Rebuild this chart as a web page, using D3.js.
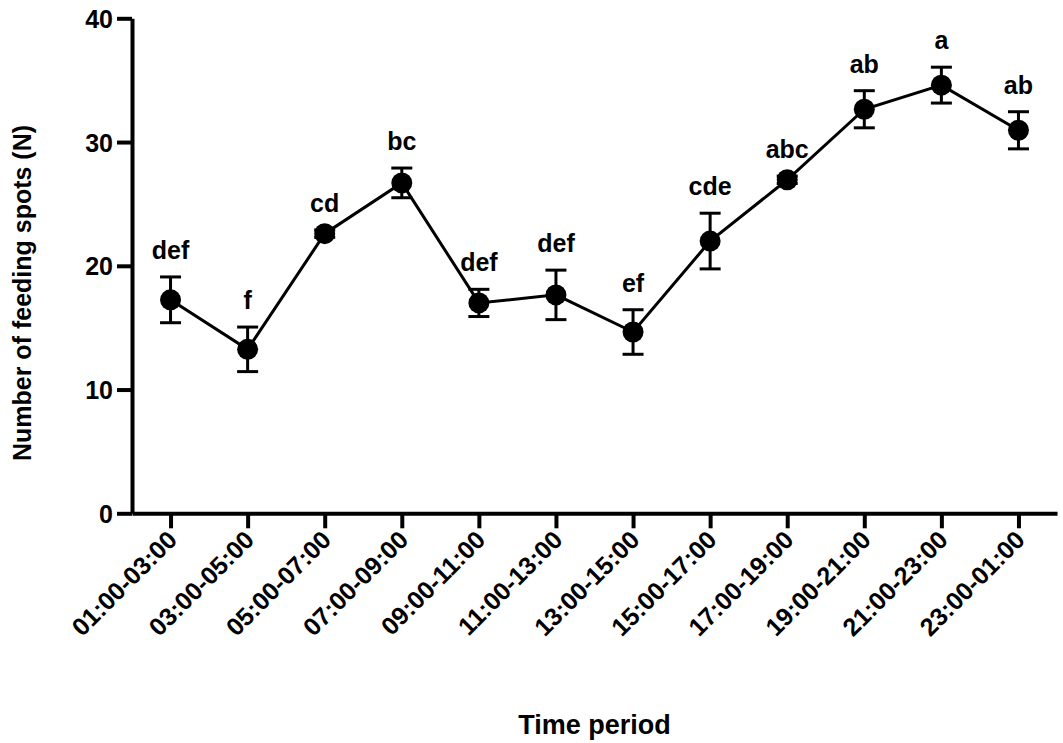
<!DOCTYPE html>
<html lang="en">
<head>
  <meta charset="UTF-8">
  <title>Feeding spots by time period</title>
  <style>
    body { margin: 0; background: #fff; }
    svg text { font-family: Arial, "Liberation Sans", sans-serif; font-weight: bold; fill: #000; }
  </style>
  <script src="https://cdn.jsdelivr.net/npm/d3@7"></script>
</head>
<body>
<svg id="chart" width="1063" height="743"></svg>
<script>
var periods = ["01:00-03:00", "03:00-05:00", "05:00-07:00", "07:00-09:00", "09:00-11:00", "11:00-13:00",
               "13:00-15:00", "15:00-17:00", "17:00-19:00", "19:00-21:00", "21:00-23:00", "23:00-01:00"];
var means   = [17.25, 13.25, 22.6, 26.7, 17.0, 17.65, 14.65, 22.0, 26.95, 32.65, 34.6, 30.95];
var errors  = [1.85, 1.8, 0.3, 1.2, 1.1, 2.0, 1.8, 2.25, 0.3, 1.5, 1.45, 1.5];
var letters = ["def", "f", "cd", "bc", "def", "def", "ef", "cde", "abc", "ab", "a", "ab"];
var yTicks  = [0, 10, 20, 30, 40];

var rows = periods.map(function(p, i) {
    return {period: p, mean: means[i], err: errors[i], letter: letters[i]};
});

var svg = d3.select("#chart");

var x = d3.scalePoint().domain(periods).range([132, 1057]).padding(0.5);
var y = d3.scaleLinear().domain([0, 40]).range([513.3, 18.3]);

// axes
var xAxis = svg.append("g")
    .attr("transform", "translate(0," + y(0) + ")")
    .call(d3.axisBottom(x).tickSize(15).tickSizeOuter(0).tickFormat(""));

var yAxis = svg.append("g")
    .attr("transform", "translate(132,0)")
    .call(d3.axisLeft(y).tickValues(yTicks).tickSize(15).tickSizeOuter(0).tickPadding(4));

[xAxis, yAxis].forEach(function(g) {
    g.select(".domain").attr("stroke", "#000").attr("stroke-width", 4);
    g.selectAll(".tick line").attr("stroke", "#000").attr("stroke-width", 4);
});
yAxis.selectAll(".tick text").style("font-size", "25px").attr("dy", "0.36em");

// rotated category labels
svg.append("g").selectAll("text")
    .data(periods)
    .enter().append("text")
    .attr("transform", function(d) { return "translate(" + (x(d) + 8) + "," + (y(0) + 28) + ") rotate(-45)"; })
    .attr("text-anchor", "end")
    .style("font-size", "25px")
    .text(function(d) { return d; });

// axis titles
svg.append("text")
    .attr("transform", "translate(31,293) rotate(-90)")
    .attr("text-anchor", "middle")
    .style("font-size", "25px")
    .text("Number of feeding spots (N)");

svg.append("text")
    .attr("x", 594.5)
    .attr("y", 734)
    .attr("text-anchor", "middle")
    .style("font-size", "27px")
    .text("Time period");

// connecting line
var line = d3.line()
    .x(function(d) { return x(d.period); })
    .y(function(d) { return y(d.mean); });

svg.append("path")
    .datum(rows)
    .attr("d", line)
    .attr("fill", "none")
    .attr("stroke", "#000")
    .attr("stroke-width", 3);

// error bars
var bars = svg.append("g").selectAll("g")
    .data(rows)
    .enter().append("g")
    .attr("stroke", "#000")
    .attr("stroke-width", 3);

bars.append("line")
    .attr("x1", function(d) { return x(d.period); })
    .attr("x2", function(d) { return x(d.period); })
    .attr("y1", function(d) { return y(d.mean - d.err); })
    .attr("y2", function(d) { return y(d.mean + d.err); });

bars.append("line")
    .attr("x1", function(d) { return x(d.period) - 10.5; })
    .attr("x2", function(d) { return x(d.period) + 10.5; })
    .attr("y1", function(d) { return y(d.mean + d.err); })
    .attr("y2", function(d) { return y(d.mean + d.err); });

bars.append("line")
    .attr("x1", function(d) { return x(d.period) - 10.5; })
    .attr("x2", function(d) { return x(d.period) + 10.5; })
    .attr("y1", function(d) { return y(d.mean - d.err); })
    .attr("y2", function(d) { return y(d.mean - d.err); });

// markers
svg.append("g").selectAll("circle")
    .data(rows)
    .enter().append("circle")
    .attr("cx", function(d) { return x(d.period); })
    .attr("cy", function(d) { return y(d.mean); })
    .attr("r", 10.5)
    .attr("fill", "#000");

// significance letters
svg.append("g").selectAll("text")
    .data(rows)
    .enter().append("text")
    .attr("x", function(d) { return x(d.period); })
    .attr("y", function(d) { return y(d.mean + d.err) - 18; })
    .attr("text-anchor", "middle")
    .style("font-size", "25px")
    .text(function(d) { return d.letter; });
</script>
</body>
</html>
